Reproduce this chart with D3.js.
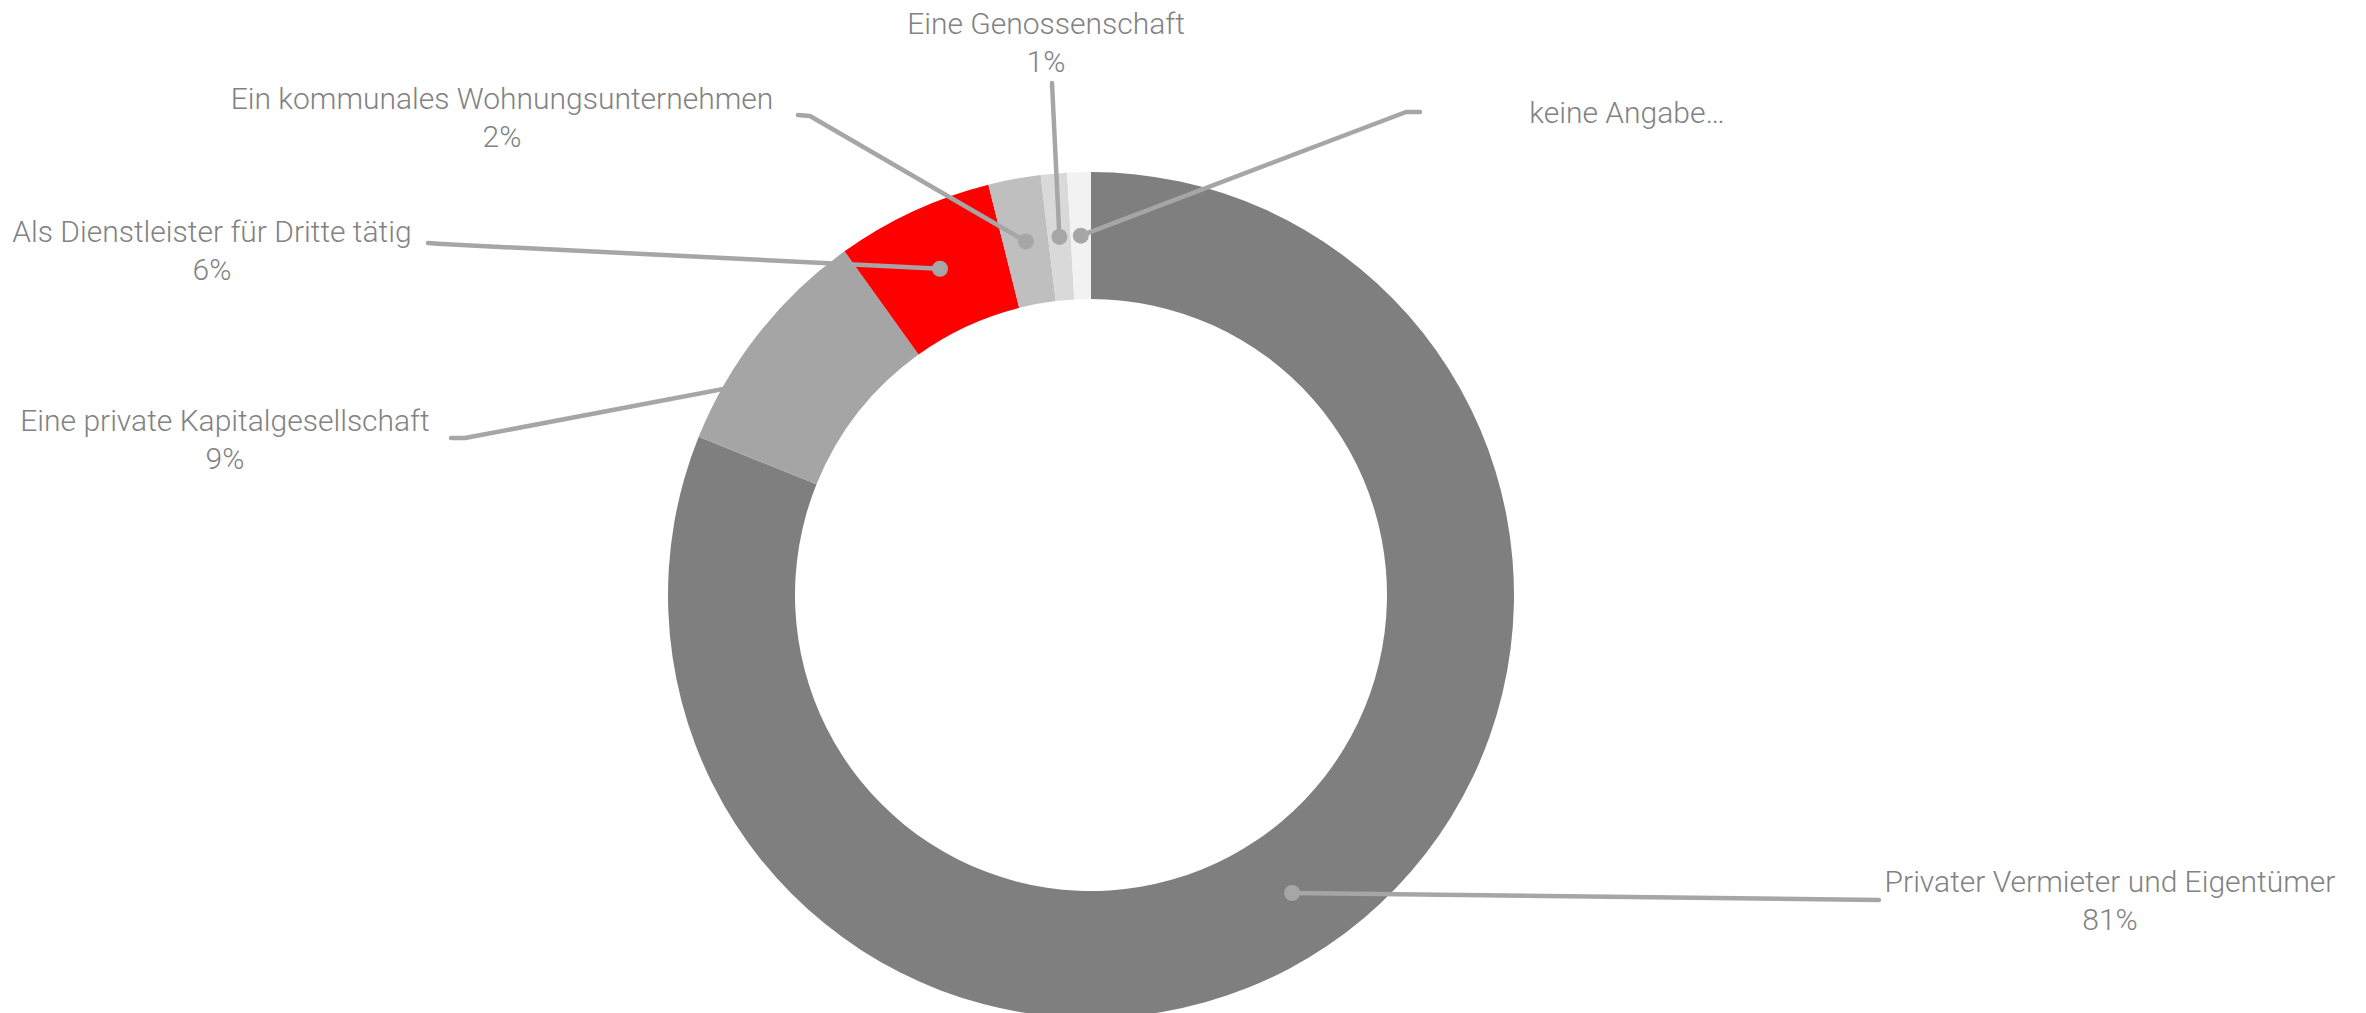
<!DOCTYPE html>
<html>
<head>
<meta charset="utf-8">
<script src="https://cdn.jsdelivr.net/npm/d3@7/dist/d3.min.js"></script>
<style>
html,body{margin:0;padding:0;background:#fff;}
svg{display:block;}
text{font-family:Roboto,"Liberation Sans",sans-serif;font-weight:300;}
</style>
</head>
<body>
<svg id="chart" width="2366" height="1013"></svg>
<script>
// ---- data ----
const categories = [
  "Privater Vermieter und Eigentümer",
  "Eine private Kapitalgesellschaft",
  "Als Dienstleister für Dritte tätig",
  "Ein kommunales Wohnungsunternehmen",
  "Eine Genossenschaft",
  "keine Angabe…"
];
const values = [81.1, 9.0, 6.0, 2.0, 1.0, 0.9];
const percentLabels = ["81%", "9%", "6%", "2%", "1%", ""];

// ---- styles / layout (not data) ----
const colors = ["#7f7f7f", "#a5a5a5", "#ff0000", "#bfbfbf", "#d9d9d9", "#f2f2f2"];
const W = 2366, H = 1013;
const cx = 1091, cy = 595, R = 423, r0 = 296;
// label centre x, first-line baseline y
const labelPos = [[2110, 892], [225, 431], [212, 242], [502, 109], [1046, 34], [1627, 123]];
// leader line points at the label side (end, elbow)
const leaderEnds = [
  [[1879, 900]],
  [[451, 438], [465, 438]],
  [[428, 243], [442, 244]],
  [[798, 115], [810, 116]],
  [[1052, 83]],
  [[1420, 112], [1406, 112]]
];
const belowArcs = [false, true, false, false, false, false];

const svg = d3.select("#chart");
const g = svg.append("g").attr("transform", `translate(${cx},${cy})`);

const pie = d3.pie().sort(null).value(d => d.v);
const arcs = pie(values.map((v, i) => ({v, i})));
const arc = d3.arc().innerRadius(r0).outerRadius(R);
const midArc = d3.arc().innerRadius((R + r0) / 2).outerRadius((R + r0) / 2);

const lineGen = d3.line();
function leaderPts(d) {
  const c = midArc.centroid(d);
  const pts = leaderEnds[d.index].map(p => [p[0] - cx, p[1] - cy]);
  return pts.concat([c]);
}

function drawLeaders(layer, filterFn) {
  const sel = layer.selectAll(null).data(arcs.filter(filterFn)).enter().append("g");
  sel.append("path")
    .attr("d", d => lineGen(leaderPts(d)))
    .attr("fill", "none")
    .attr("stroke", "#a6a6a6")
    .attr("stroke-width", 4.5)
    .attr("stroke-linecap", "round")
    .attr("stroke-linejoin", "round");
  sel.append("circle")
    .attr("cx", d => midArc.centroid(d)[0])
    .attr("cy", d => midArc.centroid(d)[1])
    .attr("r", 8)
    .attr("fill", "#a6a6a6");
}

const under = g.append("g");
drawLeaders(under, d => belowArcs[d.index]);

g.append("g").selectAll("path").data(arcs).enter().append("path")
  .attr("d", arc)
  .attr("fill", d => colors[d.index]);

const over = g.append("g");
drawLeaders(over, d => !belowArcs[d.index]);

// labels
const lab = svg.append("g").selectAll("text").data(categories).enter().append("text")
  .attr("x", (d, i) => labelPos[i][0])
  .attr("y", (d, i) => labelPos[i][1])
  .attr("text-anchor", "middle")
  .attr("font-size", 30)
  .attr("fill", "#828282");
lab.append("tspan").text(d => d);
lab.append("tspan")
  .attr("x", (d, i) => labelPos[i][0])
  .attr("dy", 38)
  .text((d, i) => percentLabels[i]);
</script>
</body>
</html>
